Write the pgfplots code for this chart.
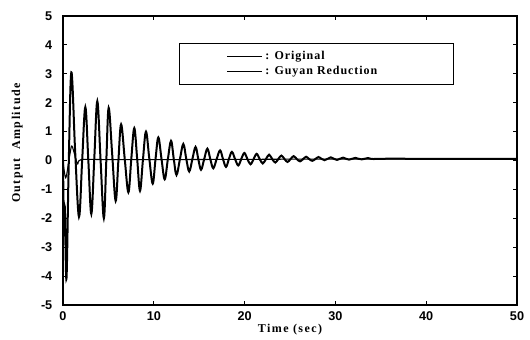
\documentclass[border=0pt]{standalone}
\usepackage{fontspec}
\setmainfont{Liberation Serif}
\setsansfont{Liberation Sans}
\newfontfamily\lblfont[LetterSpace=12]{Liberation Serif}
\newfontfamily\legfont[LetterSpace=8]{Liberation Serif}
\usepackage{pgfplots}
\pgfplotsset{compat=1.18}
\begin{document}
\begin{tikzpicture}
\begin{axis}[name=ax,
  scale only axis, width=340.5pt, height=216.75pt,
  xmin=0, xmax=50, ymin=-5, ymax=5,
  xtick={0,10,...,50}, ytick={-5,-4,...,5},
  tick pos=both, tick align=inside, major tick length=3pt,
  axis line style={line width=0.9pt},
  tick style={black, line width=0.6pt},
  /pgf/number format/assume math mode=true,
  ticklabel style={font=\fontsize{9.5}{10}\selectfont\sffamily\bfseries},
  xticklabel style={yshift=-1.5pt},
  yticklabel style={xshift=-4.5pt},
  xlabel={\lblfont\bfseries Time (sec)},
  ylabel={\lblfont\bfseries Output\ \ Amplitude},
  label style={font=\fontsize{9}{10}\selectfont},
  xlabel style={at={(axis description cs:0.5,0)}, anchor=center, yshift=-18.75pt},
  ylabel style={at={(axis description cs:-0.101,0.56)}, anchor=center, rotate=0},
  legend image code/.code={\path (-32pt,0pt); \draw[#1, line width=0.9pt] (0pt,0pt) -- (26pt,0pt);},
  legend cell align=left,
  legend style={at={(axis description cs:0.2555,0.9066)}, anchor=north west,
    draw=black, line width=1pt, font=\fontsize{9}{10}\selectfont\legfont\bfseries,
    row sep=0pt, inner ysep=3.5pt},
]
\addplot[black, line width=1.5pt, smooth, tension=0.6] coordinates {
(0,0) (0.12,-2.6) (0.2,-1.6) (0.38,-4.1) (0.62,-0.3) (0.92,3.05)
(1.34,0.3) (1.76,-1.95) (2.11,0) (2.46,1.85) (2.79,0) (3.12,-1.85)
(3.45,0.1) (3.78,2.05) (4.14,0) (4.5,-2.0) (4.77,0) (5.03,1.82)
(5.42,0.2) (5.8,-1.4) (6.1,0) (6.4,1.25) (6.8,0.05) (7.2,-1.1)
(7.52,0.05) (7.85,1.12) (8.17,0.05) (8.48,-1.05) (8.81,0.05) (9.14,1.0)
(9.51,0.05) (9.88,-0.8) (10.19,0.05) (10.5,0.8) (10.85,0.05) (11.2,-0.65)
(11.55,0.05) (11.9,0.68) (12.2,0.05) (12.5,-0.5) (12.88,0.05) (13.25,0.57)
(13.58,0.05) (13.9,-0.38) (14.25,0.05) (14.6,0.47) (14.9,0.05) (15.2,-0.32)
(15.55,0.05) (15.9,0.41) (16.22,0.05) (16.55,-0.27) (16.92,0.05) (17.3,0.35)
(17.62,0.05) (17.95,-0.22) (18.27,0.05) (18.6,0.3) (18.95,0.05) (19.3,-0.17)
(19.63,0.05) (19.97,0.26) (20.31,0.05) (20.65,-0.13) (20.99,0.05) (21.33,0.23)
(21.66,0.05) (22.0,-0.1) (22.35,0.05) (22.7,0.2) (23.04,0.05) (23.38,-0.07)
(23.71,0.05) (24.05,0.17) (24.39,0.05) (24.73,-0.05) (25.06,0.05) (25.4,0.15)
(25.75,0.05) (26.1,-0.03) (26.44,0.05) (26.78,0.13) (27.11,0.05) (27.45,-0.01)
(27.79,0.05) (28.13,0.12) (28.46,0.06) (28.8,0.01) (29.15,0.06) (29.5,0.11)
(29.83,0.06) (30.17,0.02) (30.51,0.06) (30.85,0.1) (31.17,0.06) (31.5,0.03)
(31.85,0.06) (32.2,0.09) (32.55,0.06) (32.9,0.04) (33.23,0.06) (33.57,0.085)
(33.91,0.06) (34.25,0.05) (35,0.06) (40,0.06) (45,0.06) (50,0.06)
};
\addlegendentry{\makebox[136pt][l]{: Original}}
\addplot[black, line width=0.8pt, smooth] coordinates {
(0,0) (0.3,-0.6) (0.7,0.1) (0.95,0.5) (1.2,0.3) (1.6,-0.12) (2.0,0.03)
(5,0.03) (10,0.03) (20,0.04) (30,0.05) (40,0.05) (50,0.05)
};
\addlegendentry{\makebox[136pt][l]{: Guyan Reduction}}
\end{axis}
\path ([shift={(-47.25pt,-24.75pt)}]ax.south west) rectangle ([shift={(9.75pt,12pt)}]ax.north east);
\end{tikzpicture}
\end{document}
